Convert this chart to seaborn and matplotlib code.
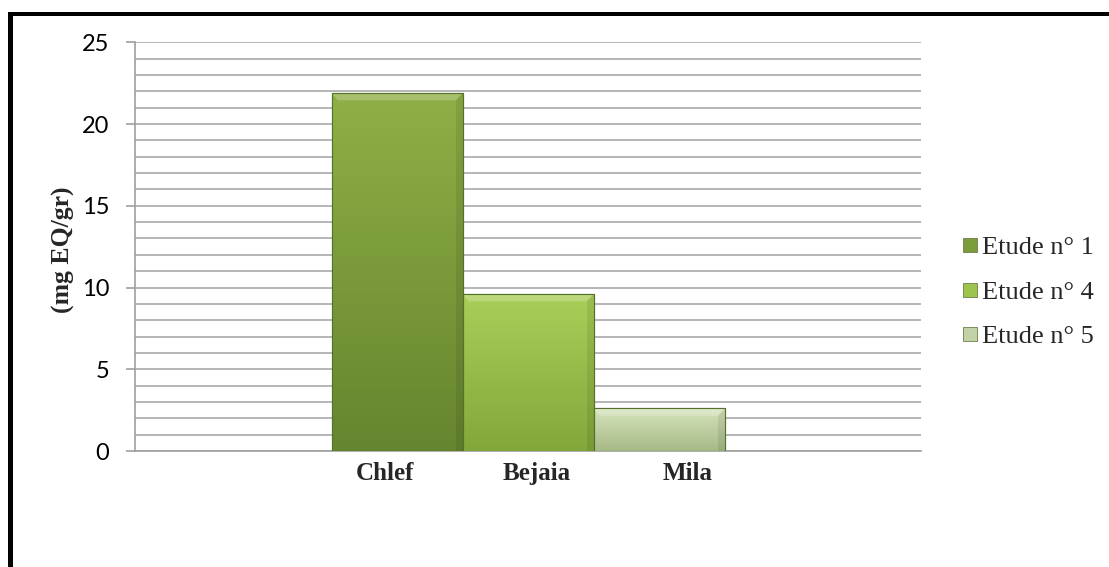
import numpy as np
import pandas as pd
import matplotlib
matplotlib.use("Agg")
import matplotlib.pyplot as plt
import seaborn as sns
from matplotlib.colors import LinearSegmentedColormap
from matplotlib.lines import Line2D
from matplotlib.patches import Rectangle, Polygon
from matplotlib.ticker import MultipleLocator

# ---- data -------------------------------------------------------------
regions = ["Chlef", "Bejaia", "Mila"]
studies = ["Etude n° 1", "Etude n° 4", "Etude n° 5"]
values = [21.9, 9.6, 2.6]
y_ticks = [0, 5, 10, 15, 20, 25]
y_label = "(mg EQ/gr)"

# ---- styling ----------------------------------------------------------
top_colors = ["#8fb046", "#a9cf59", "#d6e4bd"]
bottom_colors = ["#66852f", "#84a73b", "#a6b986"]
legend_colors = ["#7b9c3b", "#9dc44c", "#c2d1a6"]
label_offsets = [-0.09, 0.07, 0.22]   # region names sit slightly off the bar centres

W, H = 1109, 567
sns.set_theme(style="white")
plt.rcParams["font.family"] = ["Lato", "DejaVu Sans"]
serif = ["Liberation Serif", "DejaVu Serif"]

fig = plt.figure(figsize=(W / 100, H / 100), dpi=100)
ax = fig.add_axes([135 / W, 1 - 451 / H, (921 - 135) / W, (451 - 42.3) / H])

df = pd.DataFrame({"region": regions, "study": studies, "value": values})
sns.barplot(data=df, x="region", y="value", hue="study", order=regions,
            hue_order=studies, palette=legend_colors, dodge=False, width=1.0,
            ax=ax, legend=False, edgecolor="#56712b", linewidth=0.8,
            zorder=3, errorbar=None)

ax.set_xlim(-2, 4)
ax.set_ylim(0, 25)

# shaded fill with a bevelled top edge for every bar
for patch, c_top, c_bot in zip(ax.patches, top_colors, bottom_colors):
    x0, y0 = patch.get_x(), patch.get_y()
    w, h = patch.get_width(), patch.get_height()
    cmap = LinearSegmentedColormap.from_list("g", [c_bot, c_top])
    grad = np.linspace(0, 1, 256).reshape(-1, 1)
    im = ax.imshow(grad, cmap=cmap, origin="lower", aspect="auto",
                   extent=(x0, x0 + w, y0, y0 + h), zorder=3.5)
    im.set_clip_path(patch)
    dx, dy = 0.05, 0.45
    bevel = Polygon([(x0, y0 + h), (x0 + w, y0 + h), (x0 + w - dx, y0 + h - dy),
                     (x0 + dx, y0 + h - dy)], closed=True,
                    facecolor="white", alpha=0.22, edgecolor="none", zorder=3.6)
    ax.add_patch(bevel)
    side = Polygon([(x0 + w, y0 + h), (x0 + w, y0), (x0 + w - dx, y0),
                    (x0 + w - dx, y0 + h - dy)], closed=True,
                   facecolor="black", alpha=0.08, edgecolor="none", zorder=3.6)
    ax.add_patch(side)
    outline = Rectangle((x0, y0), w, h, fill=False, edgecolor="#56712b",
                        linewidth=0.8, zorder=3.7)
    ax.add_patch(outline)

# gridlines every unit
ax.set_yticks(y_ticks)
ax.yaxis.set_minor_locator(MultipleLocator(1))
ax.grid(which="both", axis="y", color="#a9a9a9", linewidth=1.2, zorder=0)
ax.set_axisbelow(True)
ax.tick_params(axis="y", which="major", length=6.5, width=1.2, color="#a0a0a0",
               direction="out", pad=12, labelsize=17, labelcolor="black", left=True)
ax.tick_params(axis="y", which="minor", length=0)
for s in ["top", "right"]:
    ax.spines[s].set_visible(False)
for s in ["left", "bottom"]:
    ax.spines[s].set_color("#a0a0a0")
    ax.spines[s].set_linewidth(1.2)

# region names under the bars
ax.set_xticks([i + off for i, off in enumerate(label_offsets)])
ax.set_xticklabels(regions, fontfamily=serif, fontweight="bold", fontsize=18)
ax.tick_params(axis="x", length=0, pad=8)
ax.set_xlabel("")

ax.set_ylabel(y_label, fontfamily=serif, fontweight="bold", fontsize=18.5)
ax.yaxis.set_label_coords((75 - 135) / (921 - 135), (451 - 250) / (451 - 42.3))

# legend
handles = [Line2D([], [], marker="s", linestyle="none", markersize=10.5,
                  markerfacecolor=c, markeredgecolor="#6a7f4a", markeredgewidth=0.6)
           for c in legend_colors]
ax.legend(handles, studies, loc="center left",
          bbox_to_anchor=(962 / W, 1 - 292 / H), bbox_transform=fig.transFigure,
          frameon=False, prop={"family": serif, "size": 19}, handlelength=0.6,
          handletextpad=0.15, labelspacing=0.8, borderpad=0, borderaxespad=0)

# page frame on the left and top edges
fig.add_artist(Rectangle((8 / W, 0), 5 / W, 1 - 12 / H, transform=fig.transFigure,
                         facecolor="black", edgecolor="none"))
fig.add_artist(Rectangle((8 / W, 1 - 16 / H), 1 - 8 / W, 4 / H,
                         transform=fig.transFigure, facecolor="black", edgecolor="none"))

fig.savefig("out.png", dpi=100, facecolor="white")
